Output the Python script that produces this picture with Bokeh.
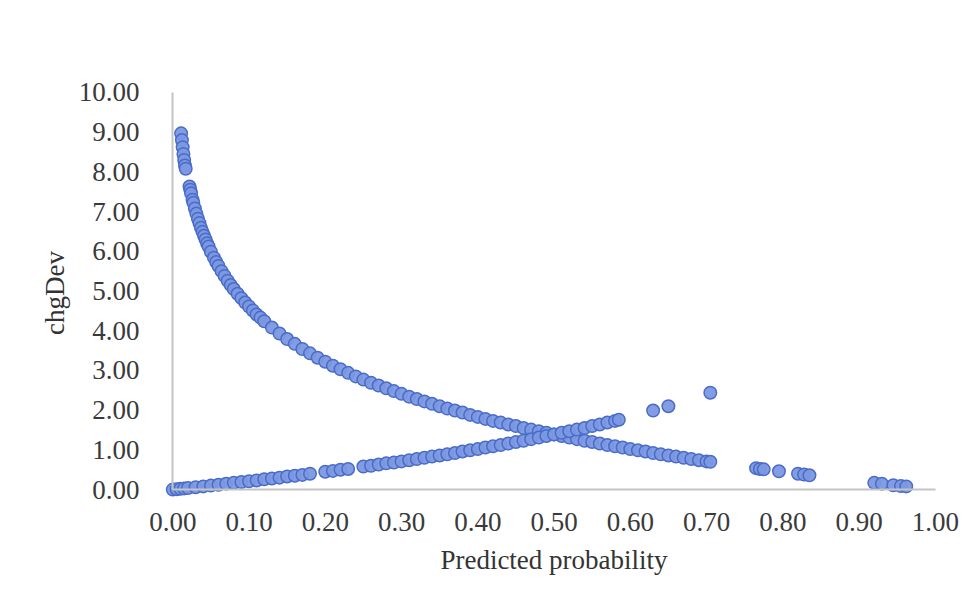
from bokeh.plotting import figure
from bokeh.models import Range1d, FixedTicker, NumeralTickFormatter, ColumnDataSource, LinearAxis
from bokeh.embed import file_html
from bokeh.resources import INLINE

# Observations with outcome = 1 (upper, decreasing branch)
prob_pos = [0.011, 0.012, 0.013, 0.014, 0.015, 0.016, 0.017, 0.022, 0.023, 0.024, 0.026,
            0.027, 0.029, 0.031, 0.033, 0.035, 0.037, 0.039, 0.041, 0.043, 0.045,
            0.047, 0.050, 0.054, 0.057, 0.060, 0.064, 0.068, 0.072, 0.076, 0.080,
            0.085, 0.090, 0.095, 0.100, 0.105, 0.110, 0.115, 0.120, 0.130, 0.140,
            0.150, 0.160, 0.170, 0.180, 0.190, 0.200, 0.210, 0.220, 0.230, 0.240,
            0.250, 0.260, 0.270, 0.280, 0.290, 0.300, 0.310, 0.320, 0.330, 0.340,
            0.350, 0.360, 0.370, 0.380, 0.390, 0.400, 0.410, 0.420, 0.430, 0.440,
            0.450, 0.460, 0.470, 0.480, 0.490, 0.500, 0.510, 0.520, 0.530, 0.540,
            0.550, 0.560, 0.570, 0.580, 0.590, 0.600, 0.610, 0.620, 0.630, 0.640,
            0.650, 0.660, 0.670, 0.680, 0.690, 0.700, 0.705, 0.765, 0.770, 0.775,
            0.795, 0.820, 0.828, 0.835, 0.920, 0.930, 0.945, 0.955, 0.962]
dev_pos = [8.97, 8.80, 8.62, 8.45, 8.30, 8.16, 8.08, 7.63, 7.55, 7.46, 7.30,
           7.22, 7.08, 6.95, 6.82, 6.71, 6.59, 6.49, 6.39, 6.30, 6.20,
           6.12, 5.99, 5.84, 5.73, 5.63, 5.50, 5.38, 5.26, 5.15, 5.05,
           4.93, 4.82, 4.71, 4.61, 4.51, 4.41, 4.33, 4.24, 4.08, 3.93,
           3.79, 3.67, 3.54, 3.43, 3.32, 3.22, 3.12, 3.03, 2.94, 2.85,
           2.77, 2.69, 2.62, 2.55, 2.48, 2.41, 2.34, 2.28, 2.22, 2.16,
           2.10, 2.04, 1.99, 1.94, 1.88, 1.83, 1.78, 1.73, 1.69, 1.64,
           1.60, 1.55, 1.51, 1.47, 1.43, 1.39, 1.35, 1.31, 1.27, 1.23,
           1.20, 1.16, 1.12, 1.09, 1.06, 1.02, 0.99, 0.96, 0.92, 0.89,
           0.86, 0.83, 0.80, 0.77, 0.74, 0.71, 0.70, 0.54, 0.52, 0.51,
           0.46, 0.40, 0.38, 0.36, 0.17, 0.15, 0.11, 0.09, 0.08]

# Observations with outcome = 0 (lower, increasing branch)
prob_neg = [0.000, 0.005, 0.010, 0.015, 0.020, 0.030, 0.040, 0.050, 0.060, 0.070,
            0.080, 0.090, 0.100, 0.110, 0.120, 0.130, 0.140, 0.150, 0.160, 0.170,
            0.180, 0.200, 0.210, 0.220, 0.230, 0.250, 0.260, 0.270, 0.280, 0.290,
            0.300, 0.310, 0.320, 0.330, 0.340, 0.350, 0.360, 0.370, 0.380, 0.390,
            0.400, 0.410, 0.420, 0.430, 0.440, 0.450, 0.460, 0.470, 0.480, 0.490,
            0.500, 0.510, 0.520, 0.530, 0.540, 0.550, 0.560, 0.570, 0.580, 0.585,
            0.630, 0.650, 0.705]
dev_neg = [0.00, 0.01, 0.02, 0.03, 0.04, 0.06, 0.08, 0.10, 0.12, 0.15,
           0.17, 0.19, 0.21, 0.23, 0.26, 0.28, 0.30, 0.33, 0.35, 0.37,
           0.40, 0.45, 0.47, 0.50, 0.52, 0.58, 0.60, 0.63, 0.66, 0.68,
           0.71, 0.74, 0.77, 0.80, 0.83, 0.86, 0.89, 0.92, 0.96, 0.99,
           1.02, 1.06, 1.09, 1.12, 1.16, 1.20, 1.23, 1.27, 1.31, 1.35,
           1.39, 1.43, 1.47, 1.51, 1.55, 1.60, 1.64, 1.69, 1.73, 1.76,
           1.99, 2.10, 2.44]

x_ticks = [0.0, 0.1, 0.2, 0.3, 0.4, 0.5, 0.6, 0.7, 0.8, 0.9, 1.0]
y_ticks = [0, 1, 2, 3, 4, 5, 6, 7, 8, 9, 10]

src = ColumnDataSource(data=dict(x=prob_pos + prob_neg, y=dev_pos + dev_neg))

p = figure(width=979, height=598, output_backend="svg", toolbar_location=None,
           x_range=Range1d(-0.02, 1.02), y_range=Range1d(-0.3, 10.2),
           min_border_left=157, min_border_right=29, min_border_top=84,
           min_border_bottom=97)
p.outline_line_color = None
p.xgrid.visible = False
p.ygrid.visible = False
p.background_fill_color = "white"
p.border_fill_color = "white"

p.scatter("x", "y", source=src, size=12.5, fill_color="#7B98E1",
          line_color="#4A6CC8", line_width=1.5, fill_alpha=0.95)

font = "Liberation Serif"
# Label-carrying axes at the frame edges (lines hidden)
for ax in (p.xaxis[0], p.yaxis[0]):
    ax.axis_line_color = None
    ax.major_tick_line_color = None
    ax.minor_tick_line_color = None
    ax.major_label_text_font = font
    ax.major_label_text_font_size = "27px"
    ax.major_label_text_color = "#3a3a3a"
    ax.axis_label_text_font = font
    ax.axis_label_text_font_size = "27px"
    ax.axis_label_text_font_style = "normal"
    ax.axis_label_text_color = "#333333"
    ax.formatter = NumeralTickFormatter(format="0.00")

p.xaxis[0].ticker = FixedTicker(ticks=x_ticks)
p.yaxis[0].ticker = FixedTicker(ticks=y_ticks)
p.xaxis[0].axis_label = "Predicted probability"
p.yaxis[0].axis_label = "chgDev"
p.xaxis[0].major_label_standoff = 5
p.yaxis[0].major_label_standoff = 12
p.xaxis[0].axis_label_standoff = 11
p.yaxis[0].axis_label_standoff = 6

# Axis lines crossing at the origin (no labels of their own)
xline = LinearAxis(fixed_location=0, bounds=(0, 1), ticker=FixedTicker(ticks=[]),
                   axis_line_color="#C4C4C4", axis_line_width=2,
                   major_tick_line_color=None, minor_tick_line_color=None)
yline = LinearAxis(fixed_location=0, bounds=(0, 10), ticker=FixedTicker(ticks=[]),
                   axis_line_color="#C4C4C4", axis_line_width=2,
                   major_tick_line_color=None, minor_tick_line_color=None)
p.add_layout(xline, "below")
p.add_layout(yline, "left")

open("out.html", "w").write(file_html(p, INLINE))
